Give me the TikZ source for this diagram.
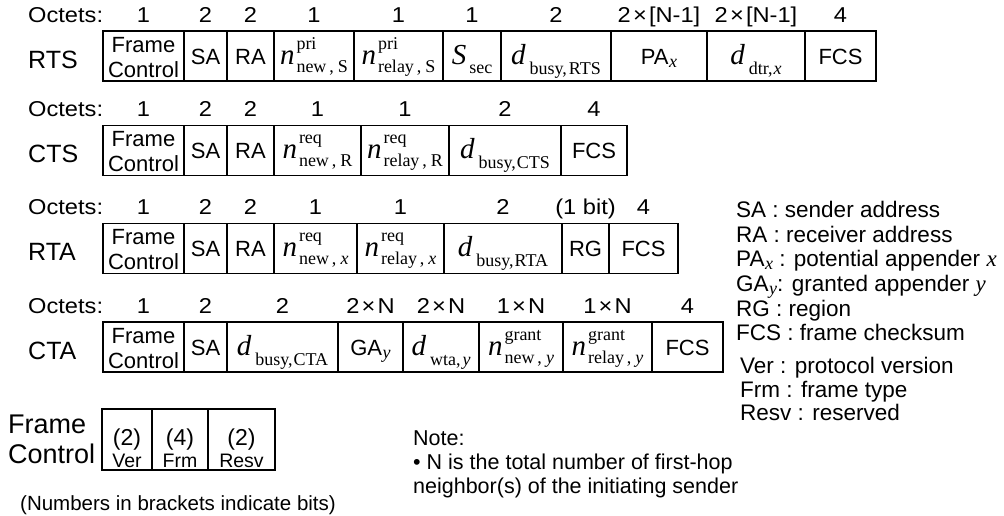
\documentclass[tikz,border=0pt]{standalone}
\usepackage{graphicx}
\usepackage{fontspec}
\setmainfont{Liberation Sans}
\newfontfamily\tms{Liberation Serif}
\newcommand\bigI[1]{{\tms\itshape\fontsize{29}{29}\selectfont #1}}
\newcommand\scr[1]{{\tms\fontsize{18}{18}\selectfont #1}}
\newcommand\nss[2]{\bigI{n}\kern2pt\rlap{\raisebox{15pt}{\scr{#1}}}\raisebox{-8pt}{\scr{#2}}}
\newcommand\dsb[2]{\bigI{#1}\kern4pt\raisebox{-10pt}{\scr{#2}}}
\newcommand\fctxt{\makebox[0pt]{\raisebox{12pt}{Frame}}\makebox[0pt]{\raisebox{-13pt}{Control}}}
\newcommand\bitc[2]{\makebox[0pt]{\raisebox{22pt}{\fontsize{23}{23}\selectfont #1}}\makebox[0pt]{\fontsize{19.5}{20}\selectfont #2}}
\newcommand\isub[1]{\kern0.5pt\raisebox{-3pt}{\scr{\itshape #1}}}
\newcommand\tmsx{\kern2pt×\kern2pt}
\tikzset{
  field/.style={draw, line width=1.1pt, inner sep=0pt, outer sep=0pt,
    text height=33pt, text depth=17pt, font=\fontsize{22}{26}\selectfont},
  octnum/.style={anchor=base, inner sep=0pt, font=\fontsize{21.5}{26}\selectfont},
  octlab/.style={anchor=base west, inner sep=0pt, font=\fontsize{21.5}{26}\selectfont},
  rowlab/.style={anchor=base west, inner sep=0pt, font=\fontsize{25}{30}\selectfont},
  legend/.style={anchor=base west, inner sep=0pt, font=\fontsize{22.5}{26}\selectfont},
  notetext/.style={anchor=base west, inner sep=0pt, font=\fontsize{21.5}{26}\selectfont},
  bits/.style={draw, line width=1.1pt, inner sep=0pt, outer sep=0pt,
    minimum height=61pt, text height=58pt, text depth=3pt},
}
\newcommand\fld[6]{\node[field, minimum width={#3-#2}] (#1) at ({(#2+#3)/2},{#4+25}) {#5};
  \node[octnum] (#1o) at ([yshift=9pt]#1.north) {\scalebox{1.1}[1]{#6}};}
\begin{document}
\begin{tikzpicture}[x=1pt,y=-1pt]
\useasboundingbox (0,0) rectangle (1004,515);
% ---------- RTS ----------
\node[octlab] (octrts) at (28,22) {\scalebox{1.1}[1]{Octets:}};
\node[rowlab] (labrts) at (28,68) {RTS};
\fld{rtsa}{103}{184}{31}{\fctxt}{1}
\fld{rtsb}{184}{227}{31}{SA}{2}
\fld{rtsc}{227}{274}{31}{RA}{2}
\fld{rtsd}{274}{354}{31}{\nss{pri}{new\kern3pt,\kern4pt S}}{1}
\fld{rtse}{354}{443}{31}{\nss{pri}{relay\kern3pt,\kern4pt S}}{1}
\fld{rtsf}{443}{501}{31}{\bigI{S}\kern3pt\raisebox{-9pt}{\scr{sec}}}{1}
\fld{rtsg}{501}{611}{31}{\dsb{d}{busy,\kern2pt RTS}}{2}
\fld{rtsh}{611}{707}{31}{PA\isub{x}}{2\tmsx[N-1]}
\fld{rtsi}{707}{805}{31}{\dsb{d}{dtr,\kern1pt\textit{x}}}{2\tmsx[N-1]}
\fld{rtsj}{805}{876}{31}{FCS}{4}
% ---------- CTS ----------
\node[octlab] (octcts) at (28,116.5) {\scalebox{1.1}[1]{Octets:}};
\node[rowlab] (labcts) at (28,162.5) {CTS};
\fld{ctsa}{103}{184}{125.5}{\fctxt}{1}
\fld{ctsb}{184}{227}{125.5}{SA}{2}
\fld{ctsc}{227}{274}{125.5}{RA}{2}
\fld{ctsd}{274}{361}{125.5}{\nss{req}{new\kern3pt,\kern4pt R}}{1}
\fld{ctse}{361}{449}{125.5}{\nss{req}{relay\kern3pt,\kern4pt R}}{1}
\fld{ctsf}{449}{561}{125.5}{\dsb{d}{busy,\kern1pt CTS}}{2}
\fld{ctsg}{561}{627}{125.5}{FCS}{4}
% ---------- RTA ----------
\node[octlab] (octrta) at (28,214.5) {\scalebox{1.1}[1]{Octets:}};
\node[rowlab] (labrta) at (28,260.5) {RTA};
\fld{rtaa}{103}{184}{223.5}{\fctxt}{1}
\fld{rtab}{184}{227}{223.5}{SA}{2}
\fld{rtac}{227}{274}{223.5}{RA}{2}
\fld{rtad}{274}{357}{223.5}{\nss{req}{new\kern3pt,\kern4pt\textit{x}}}{1}
\fld{rtae}{357}{444}{223.5}{\nss{req}{relay\kern3pt,\kern4pt\textit{x}}}{1}
\fld{rtaf}{444}{562}{223.5}{\dsb{d}{busy,\kern1pt RTA}}{2}
\fld{rtag}{562}{609}{223.5}{RG}{(1 bit)}
\fld{rtah}{609}{678}{223.5}{FCS}{4}
% ---------- CTA ----------
\node[octlab] (octcta) at (28,313) {\scalebox{1.1}[1]{Octets:}};
\node[rowlab] (labcta) at (28,359) {CTA};
\fld{ctaa}{103}{184}{322}{\fctxt}{1}
\fld{ctab}{184}{227}{322}{SA}{2}
\fld{ctac}{227}{338}{322}{\dsb{d}{busy,\kern1pt CTA}}{2}
\fld{ctad}{338}{403}{322}{GA\isub{y}}{2\tmsx N}
\fld{ctae}{403}{479}{322}{\dsb{d}{wta,\kern2pt\textit{y}}}{2\tmsx N}
\fld{ctaf}{479}{563}{322}{\nss{grant}{new\kern3pt,\kern4pt\textit{y}}}{1\tmsx N}
\fld{ctag}{563}{652}{322}{\nss{grant}{relay\kern3pt,\kern4pt\textit{y}}}{1\tmsx N}
\fld{ctah}{652}{723}{322}{FCS}{4}
% ---------- legend ----------
\node[legend] (lg1) at (736,217) {SA : sender address};
\node[legend] (lg2) at (736,242) {RA : receiver address};
\node[legend] (lg3) at (736,266) {PA\isub{x} : potential appender {\tms\itshape\fontsize{23}{26}\selectfont x}};
\node[legend] (lg4) at (736,291) {GA\isub{y}: granted appender {\tms\itshape\fontsize{23}{26}\selectfont y}};
\node[legend] (lg5) at (736,316) {RG : region};
\node[legend] (lg6) at (736,340) {FCS : frame checksum};
\node[legend] (lg7) at (740,373) {Ver : protocol version};
\node[legend] (lg8) at (740,397) {Frm : frame type};
\node[legend] (lg9) at (740,420) {Resv : reserved};
% ---------- frame control detail ----------
\node[anchor=base west, inner sep=0pt, font=\fontsize{27}{30}\selectfont] (fcl1) at (8,433) {Frame};
\node[anchor=base west, inner sep=0pt, font=\fontsize{27}{30}\selectfont] (fcl2) at (8,463) {Control};
\node[bits, minimum width=50] (fcv) at (127,439.5) {\bitc{(2)}{Ver}};
\node[bits, minimum width=56] (fcf) at (180,439.5) {\bitc{(4)}{Frm}};
\node[bits, minimum width=67] (fcr) at (241.5,439.5) {\bitc{(2)}{Resv}};
\node[anchor=base west, inner sep=0pt, font=\fontsize{20.5}{24}\selectfont] (brk) at (20,510) {(Numbers in brackets indicate bits)};
% ---------- note ----------
\node[notetext] (note0) at (413,445) {Note:};
\node[notetext] (note1) at (413,469) {• N is the total number of first-hop};
\node[notetext] (note2) at (413,493) {neighbor(s) of the initiating sender};
\end{tikzpicture}
\end{document}
